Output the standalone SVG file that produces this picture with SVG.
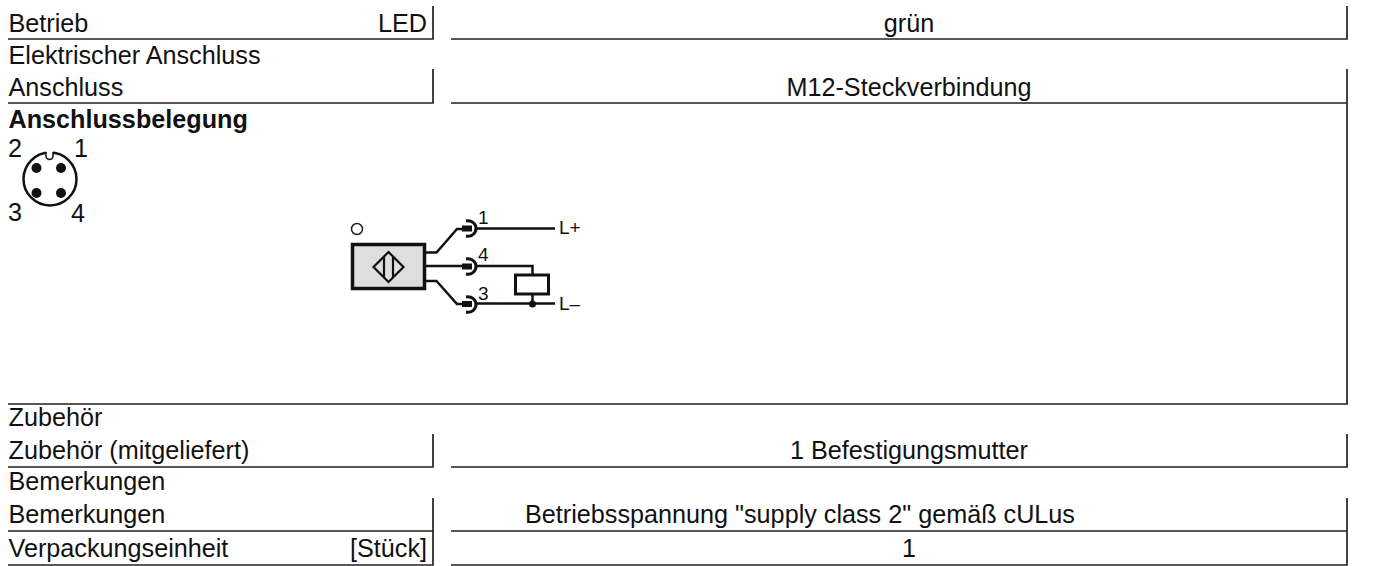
<svg xmlns="http://www.w3.org/2000/svg" width="1381" height="566" viewBox="0 0 1381 566">
<style>
text{font-family:"Liberation Sans",Arial,sans-serif;font-size:25.200px;fill:#111}
.m{text-anchor:middle}.e{text-anchor:end}
.r{stroke:#222;stroke-width:1.7;fill:none}
.s{stroke:#111;stroke-width:2.500;fill:none}
.a{stroke:#111;stroke-width:3;fill:none}
.t{font-size:19px}
</style>
<rect width="1381" height="566" fill="#fff"/>
<g id="table-lines">
<path class="r" d="M8 39H433V6M451 39H1347V6M8 103H433V69M451 103H1347V69M8 404H1347V103M8 467H433V434M451 467H1347V434M8 531H433V498M451 531H1347V498M8 565H433V531M451 565H1347V531"/>
</g>
<g id="labels">
<text x="8.500" y="32">Betrieb</text><text class="e" x="427" y="32">LED</text><text class="m" x="909" y="32">grün</text>
<text x="8.500" y="63.500">Elektrischer Anschluss</text>
<text x="8.500" y="95.500">Anschluss</text><text class="m" x="909" y="96">M12-Steckverbindung</text>
<text x="8.500" y="128" font-weight="bold">Anschlussbelegung</text>
<text x="8.500" y="426">Zubehör</text>
<text x="8.500" y="459">Zubehör (mitgeliefert)</text><text class="m" x="909" y="459">1 Befestigungsmutter</text>
<text x="8.500" y="490">Bemerkungen</text>
<text x="8.500" y="523">Bemerkungen</text><text class="m" x="800" y="523">Betriebsspannung "supply class 2" gemäß cULus</text>
<text x="8.500" y="557">Verpackungseinheit</text><text class="e" x="427" y="557">[Stück]</text><text class="m" x="909" y="557">1</text>
</g>
<g id="connector-m12">
<text x="8" y="157">2</text><text x="74" y="157">1</text><text x="8" y="221">3</text><text x="71" y="221.500">4</text>
<circle cx="50" cy="179" r="26.500" fill="#fff" stroke="#111" stroke-width="2.500"/>
<path d="M46 151V156A3.500 3.500 0 0 0 53 156V151Z" fill="#fff"/>
<path d="M46 152V156A3.500 3.500 0 0 0 53 156V152" fill="none" stroke="#111" stroke-width="1.500"/>
<circle cx="36.500" cy="168" r="5" fill="#111"/><circle cx="61" cy="168" r="5" fill="#111"/><circle cx="36.500" cy="193" r="5" fill="#111"/><circle cx="61" cy="193" r="5" fill="#111"/>
</g>
<g id="connectors">
<path class="s" d="M426 252.500H436.500L457 229H463M426 266H463M426 281H436.500L457 304H463M476 228.500H555M476 266H532.500V275M476 303.500H555M532.500 294V303"/>
<circle cx="532.500" cy="304" r="3.500" fill="#111"/>
</g>
<g id="sensor">
<circle cx="357" cy="229" r="5.500" fill="#fff" stroke="#222" stroke-width="1.500"/>
<rect x="352.500" y="244.500" width="72" height="44" fill="#dedede" stroke="#111" stroke-width="3.500"/>
<path d="M388.500 252L403.500 267L388.500 282L373.500 267ZM384 256.500V277.500M393 256.500V277.500" fill="none" stroke="#111" stroke-width="2.200"/>
</g>
<g id="plugs">
<g id="plug1"><rect x="462" y="225.500" width="10" height="6" fill="#111"/><path class="a" d="M466 221C472 220 476 224 476 228.500S472 237 466 236"/></g>
<g id="plug4"><rect x="462" y="263.500" width="10" height="6" fill="#111"/><path class="a" d="M466 259C472 258 476 262 476 266.500S472 275 466 274"/></g>
<g id="plug3"><rect x="462" y="301" width="10" height="6" fill="#111"/><path class="a" d="M466 297C472 296 476 300 476 304.500S472 313 466 312"/></g>
<text class="t" x="478" y="224">1</text><text class="t" x="478" y="261">4</text><text class="t" x="478" y="300">3</text>
</g>
<g id="load"><rect x="515.500" y="275" width="33" height="19" fill="#fff" stroke="#111" stroke-width="3"/></g>
<g id="supply"><text class="t" x="559" y="234">L+</text><text class="t" x="559" y="310">L–</text></g>
</svg>
